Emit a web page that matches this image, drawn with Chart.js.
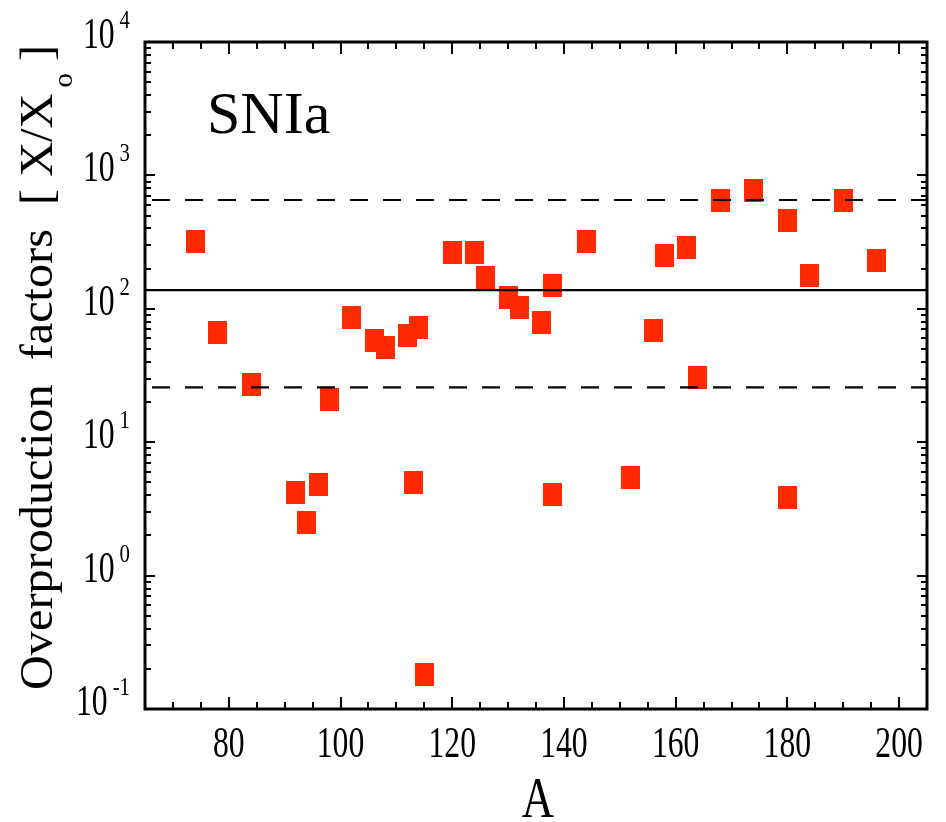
<!DOCTYPE html>
<html lang="en">

<head>
  <meta charset="UTF-8">
  <title>SNIa overproduction factors</title>
  <script src="https://cdn.jsdelivr.net/npm/chart.js"></script>
  <style>
    body {
      margin: 0;
      background: #fff;
    }
  </style>
</head>

<body>

  <canvas id="myChart" width="946" height="822"></canvas>

  <script>
    // Data
    const massNumbers = [74, 78, 84, 92, 94, 96, 98, 102, 106, 108, 112, 113, 114, 115, 120, 124, 126, 130,
      132, 136, 138, 138, 144, 152, 156, 158, 162, 164, 168, 174, 180, 180, 184, 190, 196];
    const overproduction = [322, 66.7, 27.0, 4.21, 2.51, 4.82, 20.8, 86.3, 58.2, 51.3, 63.3, 4.99, 72.4, 0.18,
      264, 264, 171, 121.6, 102.6, 79.2, 150, 4.06, 322, 5.44, 69.1, 252, 289, 30.6, 651, 773, 461, 3.85, 178, 651, 231];

    // reference lines: mean and the factor band around it
    const lineSpan = [65, 205];
    const meanLevel = 138;
    const bandHigh = 654;
    const bandLow = 25.8;

    // axes
    const xMajorTicks = [80, 100, 120, 140, 160, 180, 200];
    const xTickLabels = ['80', '100', '120', '140', '160', '180', '200'];
    const yExponents = [-1, 0, 1, 2, 3, 4];
    const yTickLabels = ['-1', '0', '1', '2', '3', '4'];

    const FONT = '"Liberation Serif", serif';
    const RED = '#ff2a00';

    // square marker, a bit taller than wide like in the figure
    const marker = document.createElement('canvas');
    marker.width = 19;
    marker.height = 23;
    const mctx = marker.getContext('2d');
    mctx.fillStyle = RED;
    mctx.fillRect(0, 0, 19, 23);

    function hline(level) {
      return lineSpan.map(x => ({ x: x, y: level }));
    }

    // condensed text helper
    function text(ctx, str, x, y, size, sx, align) {
      ctx.save();
      ctx.font = size + 'px ' + FONT;
      ctx.textAlign = align || 'left';
      ctx.textBaseline = 'alphabetic';
      ctx.translate(x, y);
      ctx.scale(sx, 1);
      ctx.fillText(str, 0, 0);
      ctx.restore();
    }

    function textWidth(ctx, str, size, sx) {
      ctx.save();
      ctx.font = size + 'px ' + FONT;
      const w = ctx.measureText(str).width * sx;
      ctx.restore();
      return w;
    }

    // frame, inward ticks, tick labels and titles
    const framePlugin = {
      id: 'frame',
      afterDraw(chart) {
        const ctx = chart.ctx;
        const xs = chart.scales.x;
        const ys = chart.scales.y;
        const a = chart.chartArea;
        ctx.save();
        ctx.strokeStyle = '#000';
        ctx.fillStyle = '#000';

        // ticks
        ctx.lineWidth = 2;
        ctx.beginPath();
        for (let v = xs.min; v <= xs.max; v += 5) {
          const px = Math.round(xs.getPixelForValue(v));
          const len = xMajorTicks.includes(v) ? 12 : 7;
          ctx.moveTo(px, a.bottom); ctx.lineTo(px, a.bottom - len);
          ctx.moveTo(px, a.top); ctx.lineTo(px, a.top + len);
        }
        yExponents.forEach(e => {
          for (let m = 1; m <= 9; m++) {
            const v = m * Math.pow(10, e);
            if (v > ys.max) break;
            const py = Math.round(ys.getPixelForValue(v));
            const len = m === 1 ? 10 : 6;
            ctx.moveTo(a.left, py); ctx.lineTo(a.left + len, py);
            ctx.moveTo(a.right, py); ctx.lineTo(a.right - len, py);
          }
        });
        ctx.stroke();

        // frame
        ctx.lineWidth = 3;
        ctx.strokeRect(a.left, a.top, a.right - a.left, a.bottom - a.top);

        // x tick labels
        xMajorTicks.forEach((v, i) => {
          text(ctx, xTickLabels[i], xs.getPixelForValue(v), a.bottom + 48, 44, 0.72, 'center');
        });

        // y tick labels 10^n
        yExponents.forEach((e, i) => {
          const py = ys.getPixelForValue(Math.pow(10, e));
          const right = 130;
          const ew = textWidth(ctx, yTickLabels[i], 26, 0.8);
          text(ctx, yTickLabels[i], right, py - 14, 26, 0.8, 'right');
          text(ctx, '10', right - ew - 5, py + 6, 44, 0.72, 'right');
        });

        // x title
        text(ctx, 'A', 538, 817, 58, 0.77, 'center');

        // y title, rotated, stretched to run from y=690 up to y=45
        ctx.save();
        ctx.translate(52, 690);
        ctx.rotate(-Math.PI / 2);
        ctx.textBaseline = 'alphabetic';
        ctx.textAlign = 'left';
        const main = 'Overproduction  factors  [ X/X';
        ctx.font = '47px ' + FONT;
        const wMain = ctx.measureText(main).width;
        const wClose = ctx.measureText(' ]').width;
        ctx.font = '28px ' + FONT;
        const wSub = ctx.measureText('o').width;
        const total = wMain + 6 + wSub + wClose;
        ctx.scale(645 / total, 1);
        ctx.font = '47px ' + FONT;
        ctx.fillText(main, 0, 0);
        ctx.fillText(' ]', wMain + 6 + wSub, 0);
        ctx.font = '28px ' + FONT;
        ctx.fillText('o', wMain + 6, 20);
        ctx.restore();

        // panel label
        ctx.font = '60px ' + FONT;
        ctx.textAlign = 'left';
        ctx.fillText('SNIa', 207, 133);

        ctx.restore();
      }
    };

    const config = {
      type: 'scatter',
      data: {
        datasets: [
          {
            type: 'line',
            data: hline(meanLevel),
            borderColor: '#000',
            borderWidth: 2.2,
            pointRadius: 0,
            order: 0
          },
          {
            type: 'line',
            data: hline(bandHigh),
            borderColor: '#000',
            borderWidth: 2.2,
            borderDash: [18, 15],
            borderDashOffset: -7,
            pointRadius: 0,
            order: 0
          },
          {
            type: 'line',
            data: hline(bandLow),
            borderColor: '#000',
            borderWidth: 2.2,
            borderDash: [18, 15],
            borderDashOffset: -7,
            pointRadius: 0,
            order: 0
          },
          {
            label: 'SNIa',
            data: massNumbers.map((a, i) => ({ x: a, y: overproduction[i] })),
            pointStyle: marker,
            backgroundColor: RED,
            borderColor: RED,
            order: 1
          }
        ]
      },
      options: {
        responsive: false,
        animation: false,
        layout: {
          padding: { left: 145, top: 42, right: 19, bottom: 113 }
        },
        plugins: {
          legend: { display: false },
          tooltip: { enabled: false }
        },
        scales: {
          x: { type: 'linear', min: 65, max: 205, display: false },
          y: { type: 'logarithmic', min: 0.1, max: 10000, display: false }
        }
      },
      plugins: [framePlugin]
    };

    const myChart = new Chart(document.getElementById('myChart'), config);
  </script>

</body>

</html>
